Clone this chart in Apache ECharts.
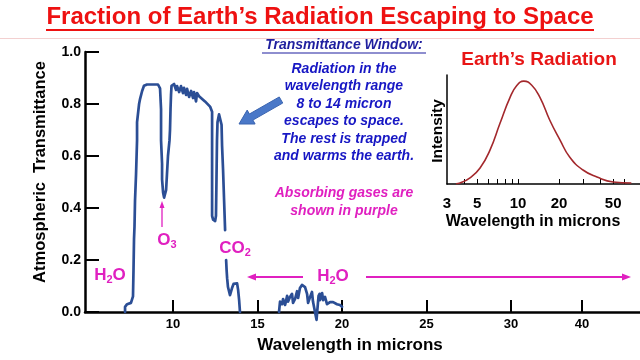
<!DOCTYPE html>
<html><head><meta charset="utf-8">
<script src="https://cdn.jsdelivr.net/npm/echarts@6/dist/echarts.min.js"></script>
<style>html,body{margin:0;padding:0;background:#fff}#c{width:640px;height:360px}</style>
</head><body><div id="c"></div>
<script>
// ---- Main chart data: atmospheric transmittance vs wavelength (microns)
const wavelength = [7.16,7.16,7.28,7.51,7.63,7.66,7.69,7.72,7.75,7.81,7.87,7.87,7.99,8.05,8.17,8.28,8.46,9.11,9.23,9.29,9.29,9.35,9.35,9.41,9.47,9.53,9.59,9.64,9.70,9.79,9.82,9.85,9.88,9.91,10.0,10.06,10.18,10.24,10.36,10.47,10.59,10.65,10.77,10.83,10.95,11.07,11.18,11.24,11.36,11.42,11.54,11.89,12.19,12.31,12.31,12.31,12.31,12.37,12.49,12.54,12.57,12.60,12.63,12.72,12.81,12.87,12.90,12.96,13.02,13.08,
  13.1,
  13.14,13.17,13.2,13.25,13.37,13.49,13.58,13.67,13.79,13.85,13.91,13.96,
  14.5,
  16.27,16.33,16.45,16.51,16.63,16.75,16.80,16.92,17.04,17.10,17.22,17.34,17.40,17.51,17.63,17.69,17.81,17.93,17.99,18.11,18.22,18.28,18.40,18.49,18.58,18.61,18.67,18.70,18.76,18.82,18.88,18.99,19.11,19.29,19.47,19.70,19.88,20.0];
const transmittance = [0.0,0.02,0.03,0.035,0.06,0.16,0.28,0.33,0.43,0.53,0.66,0.73,0.80,0.82,0.85,0.87,0.875,0.875,0.86,0.78,0.66,0.57,0.51,0.46,0.44,0.445,0.47,0.53,0.60,0.66,0.70,0.78,0.835,0.87,0.873,0.877,0.854,0.869,0.846,0.869,0.842,0.862,0.835,0.858,0.827,0.85,0.823,0.846,0.81,0.842,0.83,0.81,0.79,0.77,0.66,0.51,0.37,0.355,0.35,0.37,0.51,0.66,0.73,0.76,0.755,0.72,0.64,0.545,0.43,0.315,
  null,
  0.2,0.16,0.13,0.096,0.065,0.092,0.108,0.115,0.11,0.085,0.046,0.0,
  null,
  0.0,0.04,0.03,0.05,0.027,0.062,0.04,0.058,0.07,0.035,0.05,0.08,0.054,0.092,0.104,0.11,0.096,0.07,0.035,0.058,0.077,0.04,0.0,-0.03,0.04,0.062,0.07,0.046,0.062,0.073,0.046,0.058,0.03,0.038,0.038,0.03,0.027,0.02];
const xTickValues = [10, 15, 20, 25, 30, 40];
const yTickValues = [0, 0.2, 0.4, 0.6, 0.8, 1.0];

// ---- Inset data: Earth's radiation intensity vs wavelength (microns, log axis)
const earthWavelength = [3.5,3.74,4.43,5.25,6.21,7.36,8.71,9.81,11.0,12.6,14.5,17.1,20.3,24.0,30.0,38,50,68];
const earthIntensity = [0.003,0.01,0.06,0.155,0.33,0.59,0.84,0.96,1.0,0.96,0.84,0.62,0.43,0.26,0.136,0.068,0.02,0.01];
const earthTickLabels = [3, 5, 10, 20, 50];
const earthMinorTicks = [4, 5, 6, 7, 8, 9, 10, 20, 30, 40, 50, 60];

// main axis is linear up to 30 microns, compressed beyond
function toAxis(w) { return w <= 30 ? w : 30 + (w - 30) * 0.42; }
function fromAxis(u) { return u <= 30 ? u : 30 + (u - 30) / 0.42; }

const FONT = "'Liberation Sans', Arial, sans-serif";
const MAG = '#e020c0';

const mainData = wavelength.map((w, i) => [toAxis(w), transmittance[i] === null ? NaN : transmittance[i]]);
const earthData = earthWavelength.map((w, i) => [Math.log10(w), earthIntensity[i]]);

function txt(x, y, text, font, fill, extra) {
  return Object.assign({ type: 'text', x: x, y: y, z: 100,
    style: { text: text, font: font, fill: fill, align: 'center', verticalAlign: 'middle',
             textAlign: 'center', textVerticalAlign: 'middle' } }, extra || {});
}
function chem(x, y, a, sub, b) {
  return { type: 'text', x: x, y: y, z: 100,
    style: { text: '{m|' + a + '}{s|' + sub + '}{m|' + b + '}', align: 'center', verticalAlign: 'middle',
      textAlign: 'center', textVerticalAlign: 'middle',
      rich: { m: { font: 'bold 17px ' + FONT, fill: MAG, lineHeight: 20, verticalAlign: 'middle' },
              s: { font: 'bold 11px ' + FONT, fill: MAG, lineHeight: 8, verticalAlign: 'bottom' } } } };
}
function line(x1, y1, x2, y2, stroke, w) {
  return { type: 'line', z: 100, shape: { x1: x1, y1: y1, x2: x2, y2: y2 }, style: { stroke: stroke, lineWidth: w } };
}
function tri(points, fill) {
  return { type: 'polygon', z: 100, shape: { points: points }, style: { fill: fill } };
}
function blockArrow(x1, y1, x2, y2, shaft, headW, headL, fill, stroke) {
  const dx = x2 - x1, dy = y2 - y1, L = Math.hypot(dx, dy);
  const ux = dx / L, uy = dy / L, px = -uy, py = ux;
  const bx = x2 - ux * headL, by = y2 - uy * headL;
  const pts = [
    [x1 + px * shaft / 2, y1 + py * shaft / 2],
    [bx + px * shaft / 2, by + py * shaft / 2],
    [bx + px * headW / 2, by + py * headW / 2],
    [x2, y2],
    [bx - px * headW / 2, by - py * headW / 2],
    [bx - px * shaft / 2, by - py * shaft / 2],
    [x1 - px * shaft / 2, y1 - py * shaft / 2]
  ];
  return { type: 'polygon', z: 100, shape: { points: pts }, style: { fill: fill, stroke: stroke, lineWidth: 1 } };
}

const chart = echarts.init(document.getElementById('c'), null, { renderer: 'canvas' });
chart.setOption({
  animation: false,
  backgroundColor: '#ffffff',
  grid: [
    { left: 85, top: 52, right: 0, bottom: 48, containLabel: false },
    { left: 447, top: 75, width: 193, height: 109, containLabel: false }
  ],
  xAxis: [
    { type: 'value', gridIndex: 0, min: 4.79, max: 37.63,
      axisLine: { show: true, onZero: false, lineStyle: { color: '#000', width: 2.5 } },
      axisTick: { show: true, inside: true, length: 12, lineStyle: { color: '#000', width: 2 },
                  customValues: xTickValues.map(toAxis) },
      axisLabel: { show: true, margin: 6, color: '#000', fontFamily: FONT, fontWeight: 'bold', fontSize: 13,
                   customValues: xTickValues.map(toAxis),
                   formatter: v => String(Math.round(fromAxis(v))) },
      splitLine: { show: false } },
    { type: 'value', gridIndex: 1, min: Math.log10(3), max: Math.log10(3) + 193 / 136,
      axisLine: { show: true, onZero: false, lineStyle: { color: '#000', width: 1.5 } },
      axisTick: { show: true, inside: true, length: 5, lineStyle: { color: '#000', width: 1 },
                  customValues: earthMinorTicks.map(v => Math.log10(v)) },
      axisLabel: { show: true, margin: 12, color: '#000', fontFamily: FONT, fontWeight: 'bold', fontSize: 15,
                   customValues: earthTickLabels.map(v => Math.log10(v)),
                   formatter: v => String(Math.round(Math.pow(10, v))) },
      splitLine: { show: false } }
  ],
  yAxis: [
    { type: 'value', gridIndex: 0, min: 0, max: 1, interval: 0.2,
      axisLine: { show: true, onZero: false, lineStyle: { color: '#000', width: 2.5 } },
      axisTick: { show: true, inside: true, length: 14, lineStyle: { color: '#000', width: 2 } },
      axisLabel: { show: true, margin: 4, color: '#000', fontFamily: FONT, fontWeight: 'bold', fontSize: 14,
                   formatter: v => v.toFixed(1) },
      splitLine: { show: false } },
    { type: 'value', gridIndex: 1, min: 0, max: 1.06,
      axisLine: { show: true, onZero: false, lineStyle: { color: '#000', width: 1.5 } },
      axisTick: { show: false }, axisLabel: { show: false }, splitLine: { show: false } }
  ],
  series: [
    { type: 'line', xAxisIndex: 0, yAxisIndex: 0, data: mainData, showSymbol: false, symbol: 'none',
      clip: false, connectNulls: false,
      lineStyle: { color: '#2b4e95', width: 2.7, join: 'round', cap: 'round' } },
    { type: 'line', xAxisIndex: 1, yAxisIndex: 1, data: earthData, showSymbol: false, symbol: 'none',
      smooth: true, lineStyle: { color: '#a3282c', width: 1.6 } }
  ],
  graphic: [
    line(0, 38.5, 640, 38.5, '#f3d0d0', 1),
    txt(320, 17, 'Fraction of Earth\u2019s Radiation Escaping to Space', 'bold 24px ' + FONT, '#ee1111'),
    line(46, 30, 594, 30, '#ee1111', 2),
    txt(344, 45, 'Transmittance Window:', 'italic bold 14px ' + FONT, '#1f1f9f'),
    line(262, 53, 426, 53, '#1f1f9f', 1.2),
    { type: 'text', x: 344, y: 60, z: 100, style: {
        text: 'Radiation in the\nwavelength range\n8 to 14 micron\nescapes to space.\nThe rest is trapped\nand warms the earth.',
        font: 'italic bold 14px ' + FONT, fill: '#1717c4', lineHeight: 17.5,
        align: 'center', verticalAlign: 'top', textAlign: 'center', textVerticalAlign: 'top' } },
    { type: 'text', x: 344, y: 184.5, z: 100, style: {
        text: 'Absorbing gases are\nshown in purple',
        font: 'italic bold 14px ' + FONT, fill: MAG, lineHeight: 17.5,
        align: 'center', verticalAlign: 'top', textAlign: 'center', textVerticalAlign: 'top' } },
    blockArrow(281, 100, 239, 124, 7, 16, 14, '#4a78c8', '#3a64b0'),
    txt(40, 172, 'Atmospheric  Transmittance', 'bold 16.5px ' + FONT, '#000', { rotation: Math.PI / 2 }),
    txt(350, 345, 'Wavelength in microns', 'bold 17px ' + FONT, '#000'),
    chem(110, 275, 'H', '2', 'O'),
    chem(167, 240, 'O', '3', ''),
    chem(235, 248, 'CO', '2', ''),
    chem(333, 276, 'H', '2', 'O'),
    line(162, 227, 162, 206, MAG, 1.3),
    tri([[162, 201], [159.5, 208], [164.5, 208]], MAG),
    line(303, 277, 254, 277, MAG, 2),
    tri([[247, 277], [256, 273.5], [256, 280.5]], MAG),
    line(366, 277, 624, 277, MAG, 2),
    tri([[631, 277], [622, 273.5], [622, 280.5]], MAG),
    txt(539, 60, 'Earth\u2019s Radiation', 'bold 19px ' + FONT, '#e81515'),
    txt(438, 131, 'Intensity', 'bold 15.5px ' + FONT, '#000', { rotation: Math.PI / 2 }),
    txt(533, 222, 'Wavelength in microns', 'bold 16px ' + FONT, '#000')
  ]
});
</script>
</body></html>
